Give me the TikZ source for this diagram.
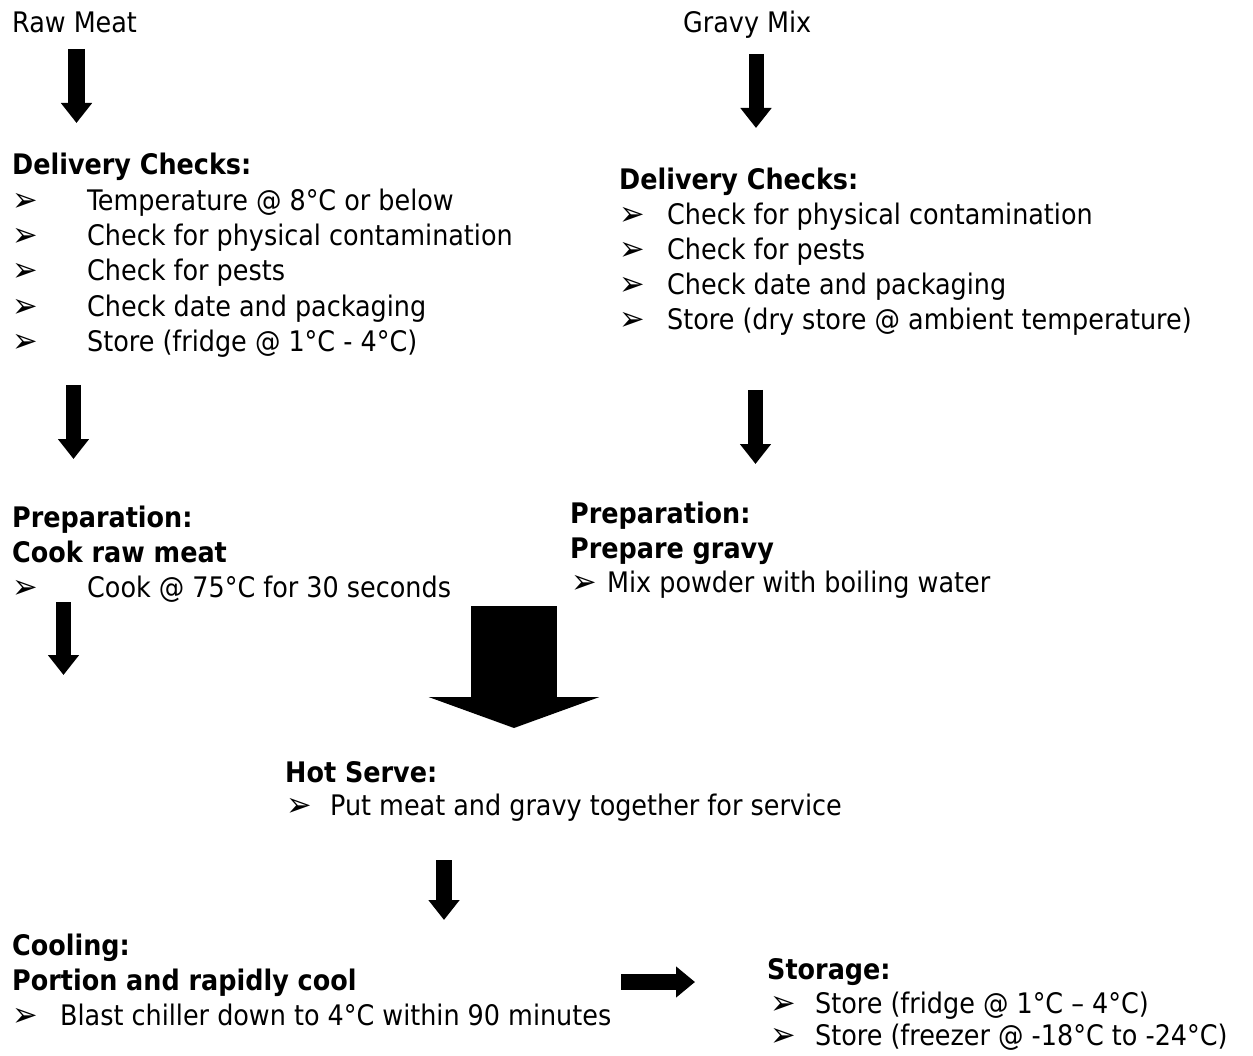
\documentclass[tikz,border=0pt]{standalone}
\usepackage{fontspec}
\setmainfont{DejaVu Sans Condensed}
\usetikzlibrary{arrows.meta,positioning}

\tikzset{
	txt/.style={anchor=base west,inner sep=0pt,font=\fontsize{28.3}{34}\selectfont},
	hdr/.style={txt,font=\fontsize{28.3}{34}\selectfont\bfseries},
	blt/.style={anchor=base west,inner sep=0pt,font=\fontsize{34}{40}\selectfont},
	pfeil/.style={line width=#1,-{Triangle[width=30pt,length=20pt]}},
}

\begin{document}
\begin{tikzpicture}[x=1pt,y=-1pt]
	\useasboundingbox (0,0) rectangle (1253,1056);

	% left column
	\node[txt] (raw) at (12,33) {Raw Meat};
	\node[hdr] (delL) at (12,175) {Delivery Checks:};
	\foreach \t [count=\i] in {Temperature @ 8°C or below,Check for physical contamination,Check for pests,Check date and packaging,Store (fridge @ 1°C - 4°C)}{
		\node[blt] (bl\i) at (12,{176+35.3*\i}) {➢};
		\node[txt] (il\i) at (87,{175+35.3*\i}) {\t};
	}
	\node[hdr] (prepL) at (12,527) {Preparation:};
	\node[hdr] (cook) at (12,562) {Cook raw meat};
	\node[blt] (bc) at (12,598) {➢};
	\node[txt] (ic) at (87,597) {Cook @ 75°C for 30 seconds};

	% right column
	\node[txt] (gravy) at (683,33) {Gravy Mix};
	\node[hdr] (delR) at (619,190) {Delivery Checks:};
	\foreach \t [count=\i] in {Check for physical contamination,Check for pests,Check date and packaging,Store (dry store @ ambient temperature)}{
		\node[blt] (br\i) at (619,{191+35*\i}) {➢};
		\node[txt] (ir\i) at (667,{190+35*\i}) {\t};
	}
	\node[hdr] (prepR) at (570,523) {Preparation:};
	\node[hdr] (prepg) at (570,558) {Prepare gravy};
	\begin{scope}
		\clip (560,560) rectangle (1100,599);
		\node[blt] (bm) at (571,593) {➢};
		\node[txt] (im) at (607,592) {Mix powder with boiling water};
	\end{scope}

	% serve, cooling, storage
	\node[hdr] (hot) at (285,782) {Hot Serve:};
	\node[blt] (bh) at (286,816) {➢};
	\node[txt] (ih) at (330,815) {Put meat and gravy together for service};

	\node[hdr] (cool) at (12,955) {Cooling:};
	\node[hdr] (portion) at (12,990) {Portion and rapidly cool};
	\node[blt] (bb) at (12,1026) {➢};
	\node[txt] (ib) at (60,1025) {Blast chiller down to 4°C within 90 minutes};

	\node[hdr] (stor) at (767,979) {Storage:};
	\node[blt] (bs1) at (770,1014) {➢};
	\node[txt] (is1) at (815,1013) {Store (fridge @ 1°C – 4°C)};
	\node[blt] (bs2) at (770,1046) {➢};
	\node[txt] (is2) at (815,1045) {Store (freezer @ -18°C to -24°C)};

	% arrow ends
	\coordinate (a1) at (76.5,49);   \coordinate (b1) at (76.5,123);
	\coordinate (a2) at (756,54);    \coordinate (b2) at (756,128);
	\coordinate (a3) at (73.5,385);  \coordinate (b3) at (73.5,459);
	\coordinate (a4) at (755.5,390); \coordinate (b4) at (755.5,464);
	\coordinate (a5) at (63.5,602);  \coordinate (b5) at (63.5,675);
	\coordinate (a6) at (514,606);   \coordinate (b6) at (514,728);
	\coordinate (a7) at (444,860);   \coordinate (b7) at (444,920);
	\coordinate (a8) at (621,982);   \coordinate (b8) at (695,982);

	\begin{scope}[black]
		\draw[pfeil=17pt] (a1) -- (b1);
		\draw[pfeil=15pt] (a2) -- (b2);
		\draw[pfeil=15pt] (a3) -- (b3);
		\draw[pfeil=15pt] (a4) -- (b4);
		\draw[pfeil=15pt] (a5) -- (b5);
		\draw[line width=86pt,-{Triangle[width=170pt,length=31pt]}] (a6) -- (b6);
		\draw[pfeil=16pt] (a7) -- (b7);
		\draw[line width=16pt,-{Triangle[width=30pt,length=19pt]}] (a8) -- (b8);
	\end{scope}
\end{tikzpicture}
\end{document}
